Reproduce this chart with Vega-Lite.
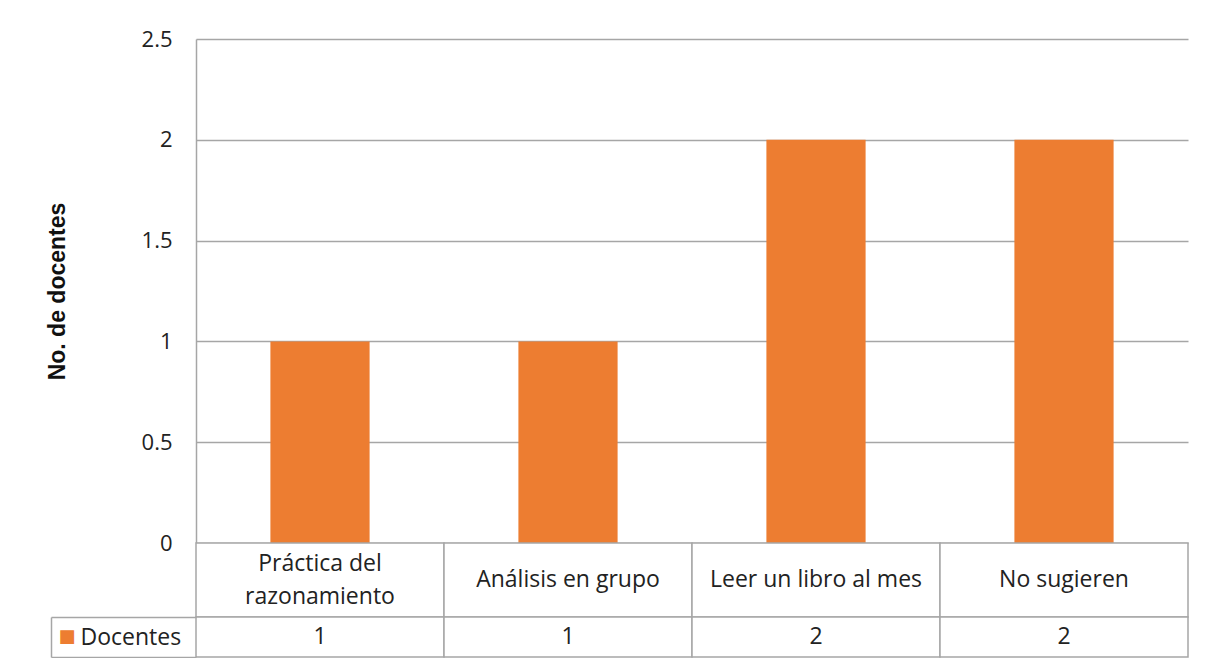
{
  "$schema": "https://vega.github.io/schema/vega-lite/v6.json",
  "padding": {"left": 46, "top": 28, "right": 0, "bottom": 0},
  "background": "white",
  "spacing": 0,
  "bounds": "flush",
  "config": {
    "view": {"stroke": null},
    "font": "Open Sans"
  },
  "datasets": {
    "d": [
      {"cat": "Práctica del\nrazonamiento", "serie": "Docentes", "n": 1},
      {"cat": "Análisis en grupo", "serie": "Docentes", "n": 1},
      {"cat": "Leer un libro al mes", "serie": "Docentes", "n": 2},
      {"cat": "No sugieren", "serie": "Docentes", "n": 2}
    ]
  },
  "resolve": {"scale": {"x": "independent", "y": "independent"}},
  "vconcat": [
    {
      "width": 992,
      "height": 504,
      "data": {"name": "d"},
      "mark": {"type": "bar", "color": "#ED7D31"},
      "encoding": {
        "x": {
          "field": "cat", "type": "nominal", "sort": null,
          "scale": {"paddingInner": 0.6, "paddingOuter": 0.3},
          "axis": null
        },
        "y": {
          "field": "n", "type": "quantitative",
          "scale": {"domain": [0, 2.5], "nice": false},
          "axis": {
            "values": [0, 0.5, 1, 1.5, 2, 2.5],
            "format": "~g",
            "grid": true, "gridColor": "#a6a6a6", "gridWidth": 1.5,
            "domain": true, "domainColor": "#a6a6a6", "domainWidth": 1.5,
            "ticks": false,
            "labelFont": "Open Sans", "labelFontSize": 22, "labelColor": "#222222",
            "labelPadding": 24,
            "title": "No. de docentes",
            "titleFont": "Liberation Sans", "titleFontSize": 23, "titleFontWeight": "bold",
            "titleColor": "#111111",
            "titlePadding": 72
          }
        }
      }
    },
    {
      "width": 992,
      "height": 74,
      "data": {"name": "d"},
      "encoding": {
        "x": {
          "field": "cat", "type": "nominal", "sort": null,
          "scale": {"paddingInner": 0, "paddingOuter": 0},
          "axis": null
        }
      },
      "layer": [
        {"mark": {"type": "rect", "fill": "white", "stroke": "#a6a6a6", "strokeWidth": 1.5}},
        {
          "mark": {
            "type": "text", "font": "Open Sans", "fontSize": 23, "color": "#222222",
            "lineBreak": "\n", "lineHeight": 33, "baseline": "middle",
            "dy": {"expr": "indexof(datum.cat, '\\n') >= 0 ? -16.5 : 0"}
          },
          "encoding": {
            "text": {"field": "cat"}
          }
        }
      ]
    },
    {
      "width": 992,
      "height": 40,
      "data": {"name": "d"},
      "encoding": {
        "x": {
          "field": "cat", "type": "nominal", "sort": null,
          "scale": {"paddingInner": 0, "paddingOuter": 0},
          "axis": null
        },
        "y": {
          "field": "serie", "type": "nominal",
          "scale": {"paddingInner": 0, "paddingOuter": 0}
        }
      },
      "resolve": {"axis": {"y": "independent"}},
      "layer": [
        {
          "mark": {"type": "rect", "fill": "white", "stroke": "#a6a6a6", "strokeWidth": 1.5},
          "encoding": {
            "y": {
              "field": "serie", "type": "nominal",
              "scale": {"paddingInner": 0, "paddingOuter": 0},
              "axis": {
                "orient": "left", "title": null, "domain": false,
                "ticks": true, "tickBand": "extent", "tickSize": 145,
                "tickColor": "#a6a6a6", "tickWidth": 1.5,
                "labelFont": "Open Sans", "labelFontSize": 23, "labelColor": "#222222",
                "labelAlign": "left", "labelPadding": -29
              }
            }
          }
        },
        {
          "mark": {"type": "text", "font": "Open Sans", "fontSize": 23, "color": "#222222"},
          "encoding": {
            "text": {"field": "n"},
            "y": {
              "field": "serie", "type": "nominal",
              "scale": {"paddingInner": 0, "paddingOuter": 0},
              "axis": {
                "orient": "left", "title": null, "offset": 145,
                "domain": true, "domainColor": "#a6a6a6", "domainWidth": 1.5,
                "ticks": false,
                "labelExpr": "'■'", "labelFont": "DejaVu Sans",
                "labelFontSize": 18, "labelColor": "#ED7D31",
                "labelAlign": "left", "labelPadding": -7
              }
            }
          }
        }
      ]
    }
  ]
}
